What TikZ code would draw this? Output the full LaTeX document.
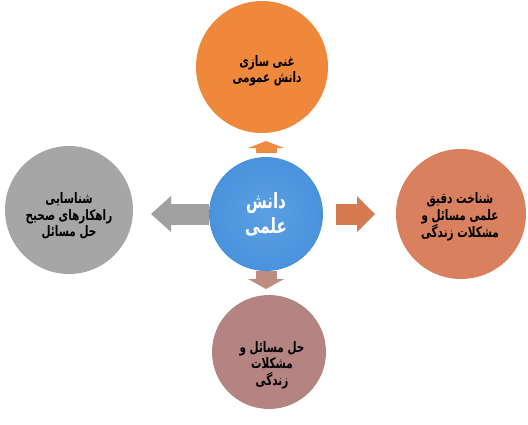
\documentclass[tikz,border=0pt]{standalone}
\usepackage{fontspec}
\newfontfamily\farsi[Script=Arabic,FakeStretch=0.72]{DejaVu Sans}
\TeXXeTstate=1
\usetikzlibrary{arrows.meta}
\newcommand{\fa}[1]{\beginR #1\endR}

\definecolor{ctrblue}{HTML}{4A92DC}
\definecolor{ctrbluein}{HTML}{5AA0E4}
\definecolor{toporange}{HTML}{F0883C}
\definecolor{rightsalmon}{HTML}{D9805E}
\definecolor{botrose}{HTML}{B48482}
\definecolor{leftgray}{HTML}{A6A6A6}
\definecolor{arrorange}{HTML}{EE8B42}
\definecolor{arrsalmon}{HTML}{D67A52}
\definecolor{arrrose}{HTML}{BE8C80}
\definecolor{arrgray}{HTML}{A0A0A0}

\begin{document}
\begin{tikzpicture}[x=1pt,y=-1pt,
  bubble/.style={circle,inner sep=0pt},
  bubbletext/.style={align=center,inner sep=0pt,font=\farsi\bfseries\fontsize{14.5}{16.5}\selectfont},
  blockarr/.style={line width=21pt,-{Triangle[length=#1,width=36pt,line width=0pt]}}]
\useasboundingbox (0,0) rectangle (528,424);

% Circles
\node[bubble,minimum size=132pt,fill=toporange] (top) at (262,67) {};
\node[bubble,minimum size=128pt,fill=leftgray] (left) at (69,210) {};
\node[bubble,minimum size=130pt,fill=rightsalmon] (right) at (461,214) {};
\node[bubble,minimum size=114pt,fill=botrose] (bot) at (269,352) {};
\node[bubble,minimum size=114pt,inner color=ctrbluein,outer color=ctrblue] (ctr) at (266,214) {};

% Arrow tips
\coordinate (ltip) at (151,214);
\coordinate (rtip) at (375,214);
\coordinate (ttip) at (266,141);
\coordinate (btip) at (266,289);

% Arrows
\draw[blockarr=20pt,arrgray] (ctr.west) -- (ltip);
\draw[blockarr=18pt,arrsalmon] ([xshift=13pt]ctr.east) -- (rtip);
\draw[blockarr=7pt,arrorange] ([yshift=4pt]ctr.north) -- (ttip);
\draw[blockarr=10pt,arrrose] (ctr.south) -- (btip);

% Texts
\node[bubbletext] (toplbl) at (267,71) {\fa{غنی سازی}\\\fa{دانش عمومی}};
\node[bubbletext] (leftlbl) at (69,216) {\fa{شناسایی}\\\fa{راهکارهای صحیح}\\\fa{حل مسائل}};
\node[bubbletext] (rightlbl) at (460,217) {\fa{شناخت دقیق}\\\fa{علمی مسائل و}\\\fa{مشکلات زندگی}};
\node[bubbletext] (botlbl) at (272,365) {\fa{حل مسائل و}\\\fa{مشکلات}\\\fa{زندگی}};
\node[bubbletext,text=white,font=\farsi\bfseries\fontsize{21}{25}\selectfont] (ctrlbl) at (266,214) {\fa{دانش}\\\fa{علمی}};
\end{tikzpicture}
\end{document}
